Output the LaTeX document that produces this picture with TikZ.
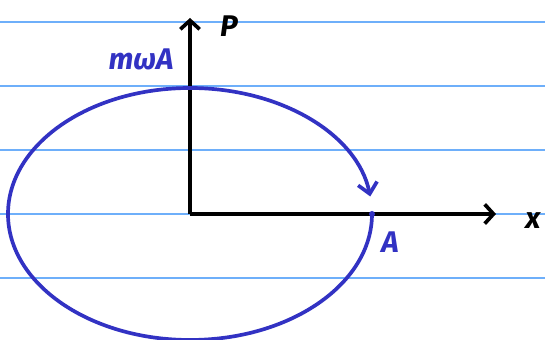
\documentclass[tikz,border=0pt]{standalone}
\usepackage{fontspec}
\setmainfont{Fira Sans}
\usetikzlibrary{arrows.meta}

\definecolor{ruleblue}{RGB}{110,175,250}
\definecolor{penblue}{RGB}{50,50,195}

\tikzset{
  ruling/.style={ruleblue, line width=1pt},
  axis/.style={black, line width=2.1pt, -{Straight Barb[length=5pt,width=11pt,line width=2.1pt]}},
  orbit/.style={penblue, line width=2.1pt},
  lbl/.style={font=\fontsize{17}{19}\selectfont\bfseries\itshape, inner sep=1pt}
}

\begin{document}
\begin{tikzpicture}[x=0.02cm, y=0.02cm]
    \useasboundingbox (0,0) rectangle (545,340);

    % ruled paper
    \foreach \h in {318,254,190,126,62}
        \draw[ruling] (0,\h) -- (545,\h);

    \coordinate (O) at (190,126);
    \coordinate (Ptop) at (190,322);
    \coordinate (Xend) at (496,126);

    \draw[axis] (O) -- (Ptop);
    \draw[axis] (O) -- (Xend);
    \node[lbl] (P) at (229,314) {P};
    \node[lbl] (X) at (533,119) {x};

    % orbit: arrow part above the axis, rest from A round
    \draw[orbit, -{Straight Barb[length=6pt,width=11pt,line width=2.1pt]}] (O) ++(0,126) arc (90:8:182 and 126);
    \draw[orbit] (O) ++(182,0) arc (0:-270:182 and 126);

    \coordinate (Apt) at (372,126);
    \coordinate (Top) at (190,252);
    \fill[penblue] (Apt) circle (3);
    \fill[penblue] (Top) circle (2);

    \node[lbl, penblue] (A) at (390,98) {A};
    \node[lbl, penblue] (mwA) at (141,281) {mωA};
\end{tikzpicture}
\end{document}
